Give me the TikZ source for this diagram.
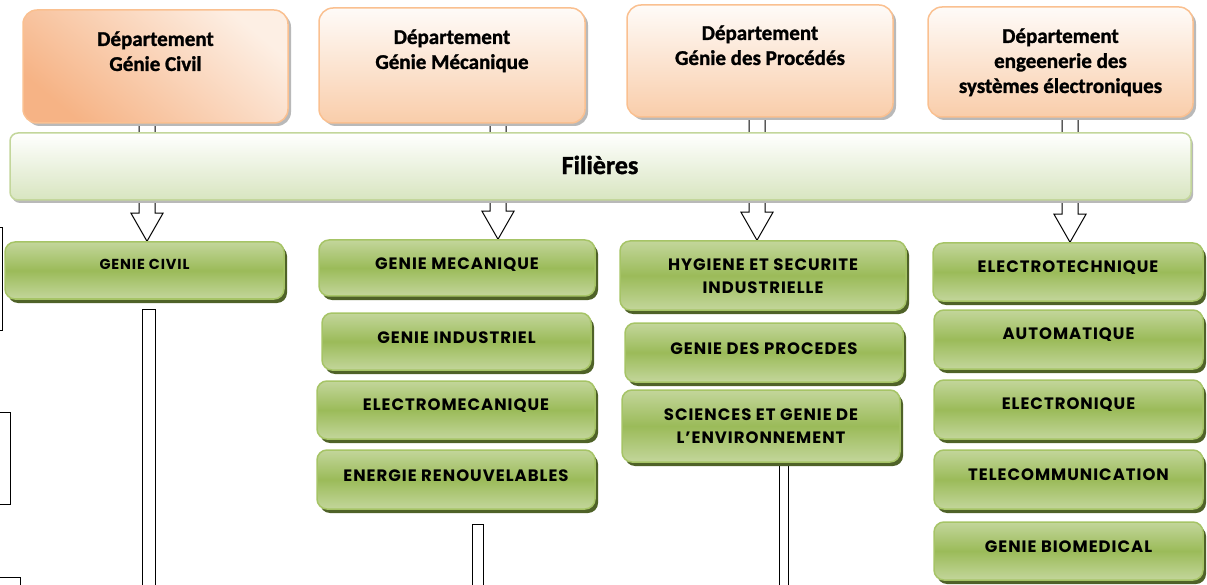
\documentclass[tikz,border=0pt]{standalone}
\usepackage{fontspec}
\newfontfamily\calib{Carlito}[BoldFeatures={FakeBold=1.3}]
\newfontfamily\comic{Poppins}[LetterSpace=6]
\usetikzlibrary{calc,shadows}
\pgfdeclarelayer{bg}
\pgfsetlayers{bg,main}
\definecolor{orB}{HTML}{FAC090}
\definecolor{orF}{HTML}{F9CDAA}
\definecolor{orD}{HTML}{F6B385}
\definecolor{orL}{HTML}{FDEFE4}
\definecolor{grL}{HTML}{C3D69B}
\definecolor{grM}{HTML}{9BBB59}
\definecolor{grE}{HTML}{A6C466}
\definecolor{grS}{HTML}{4F6228}
\definecolor{barB}{HTML}{C3D69B}
\definecolor{barF}{HTML}{D8E5C0}
\tikzset{
  deptbox/.style={draw=orB, line width=1.5pt, rounded corners=14pt,
    top color=white!92!orF, bottom color=orF,
    drop shadow={shadow xshift=3pt, shadow yshift=-3pt, fill=gray!55, opacity=1}},
  dtext/.style={anchor=north, align=center, inner sep=0pt,
    font=\calib\bfseries\fontsize{21}{25}\selectfont},
  barbox/.style={draw=barB, line width=1.5pt, rounded corners=8pt,
    top color=white, bottom color=barF,
    drop shadow={shadow xshift=2pt, shadow yshift=-3pt, fill=gray!55, opacity=1}},
  grbox/.style={draw=grE, line width=1.5pt, rounded corners=10pt,
    top color=grL, bottom color=grL, middle color=grM,
    drop shadow={shadow xshift=3pt, shadow yshift=-4pt, fill=grS, opacity=1}},
  gtext/.style={align=center, inner sep=0pt,
    font=\comic\bfseries\fontsize{16.5}{23}\selectfont},
  barrow/.style={draw=black, line width=1pt, fill=white, line join=miter},
  shaft/.style={draw=black, line width=1pt, fill=white}
}
\newcommand\blockarr[3]{%
  \draw[barrow] let \p1=(#1.south), \p2=(#2.north) in
    ({#3pt-8pt},{\y1+20pt}) -- ({#3pt-8pt},{\y2+28pt}) -- ({#3pt-16pt},{\y2+28pt})
    -- ({#3pt},{\y2}) -- ({#3pt+16pt},{\y2+28pt}) -- ({#3pt+8pt},{\y2+28pt})
    -- ({#3pt+8pt},{\y1+20pt}) -- cycle;}
\begin{document}
\begin{tikzpicture}[x=1pt,y=-1pt]
\useasboundingbox (0,0) rectangle (1207,585);
\clip (0,0) rectangle (1207,585);
% departments
\node[deptbox, minimum width=265, minimum height=113,
  top color=orL, bottom color=orD, shading angle=-40] (d1) at (155.5,66.5) {};
\node[deptbox, minimum width=266, minimum height=115] (d2) at (452,65.5) {};
\node[deptbox, minimum width=266, minimum height=112] (d3) at (760,61) {};
\node[deptbox, minimum width=265, minimum height=110] (d4) at (1060.5,62) {};
\node[dtext] (d1t) at ($(d1.north)+(0,22)$) {Département\\Génie Civil};
\node[dtext] (d2t) at ($(d2.north)+(0,22)$) {Département\\Génie Mécanique};
\node[dtext] (d3t) at ($(d3.north)+(0,21)$) {Département\\Génie des Procédés};
\node[dtext] (d4t) at ($(d4.north)+(0,22)$) {Département\\engeenerie des\\systèmes électroniques};
% bar
\node[barbox, minimum width=1181, minimum height=67] (bar) at (600.5,166.5) {};
\node[font=\calib\bfseries\fontsize{26}{30}\selectfont, inner sep=0pt] (bart) at (600,165) {Filières};
% green boxes
\node[grbox, minimum width=279, minimum height=57] (g1) at (144.5,270.5) {};
\node[grbox, minimum width=276, minimum height=56] (m1) at (457,268) {};
\node[grbox, minimum width=269, minimum height=57] (m2) at (456.5,341.5) {};
\node[grbox, minimum width=278, minimum height=58] (m3) at (456,410) {};
\node[grbox, minimum width=278, minimum height=59] (m4) at (456,479.5) {};
\node[grbox, minimum width=286, minimum height=69] (p1) at (763,275.5) {};
\node[grbox, minimum width=278, minimum height=59] (p2) at (764,352.5) {};
\node[grbox, minimum width=278, minimum height=72] (p3) at (761,426) {};
\node[grbox, minimum width=270, minimum height=58] (e1) at (1068,272) {};
\node[grbox, minimum width=269, minimum height=59] (e2) at (1068.5,339.5) {};
\node[grbox, minimum width=269, minimum height=59] (e3) at (1068.5,409.5) {};
\node[grbox, minimum width=269, minimum height=59] (e4) at (1068.5,479.5) {};
\node[grbox, minimum width=269, minimum height=58] (e5) at (1068.5,551) {};
\node[gtext, font=\comic\bfseries\fontsize{14.5}{20}\selectfont] (g1t) at ($(g1.center)+(0,-6)$) {GENIE CIVIL};
\node[gtext] (m1t) at ($(m1.center)+(0,-3)$) {GENIE MECANIQUE};
\node[gtext] (m2t) at ($(m2.center)+(0,-4)$) {GENIE INDUSTRIEL};
\node[gtext] (m3t) at ($(m3.center)+(0,-4)$) {ELECTROMECANIQUE};
\node[gtext] (m4t) at ($(m4.center)+(0,-4)$) {ENERGIE RENOUVELABLES};
\node[gtext] (p1t) at ($(p1.center)+(0,1)$) {HYGIENE ET SECURITE\\INDUSTRIELLE};
\node[gtext] (p2t) at ($(p2.center)+(0,-4)$) {GENIE DES PROCEDES};
\node[gtext] (p3t) at ($(p3.center)+(0,0)$) {SCIENCES ET GENIE DE\\L’ENVIRONNEMENT};
\node[gtext] (e1t) at ($(e1.center)+(0,-4)$) {ELECTROTECHNIQUE};
\node[gtext] (e2t) at ($(e2.center)+(0,-5)$) {AUTOMATIQUE};
\node[gtext] (e3t) at ($(e3.center)+(0,-5)$) {ELECTRONIQUE};
\node[gtext] (e4t) at ($(e4.center)+(0,-5)$) {TELECOMMUNICATION};
\node[gtext] (e5t) at ($(e5.center)+(0,-4)$) {GENIE BIOMEDICAL};
% connectors behind
\begin{pgfonlayer}{bg}
\clip (0,0) rectangle (1207,585);
\blockarr{d1}{g1}{147}
\blockarr{d2}{m1}{498}
\blockarr{d3}{p1}{757}
\blockarr{d4}{e1}{1070}
\draw[shaft] let \p1=(g1.south) in (142pt,{\y1-10pt}) rectangle (155pt,-620pt);
\draw[shaft] let \p1=(m4.south) in (472pt,{\y1-15pt}) rectangle (483pt,-620pt);
\draw[shaft] let \p1=(p3.south) in (779pt,{\y1+10pt}) rectangle (788pt,-620pt);
\draw[shaft] (-20,228) rectangle (2,330);
\draw[shaft] (-20,412) rectangle (10,504);
\draw[shaft] (-20,577) rectangle (20,640);
\end{pgfonlayer}
\end{tikzpicture}
\end{document}
